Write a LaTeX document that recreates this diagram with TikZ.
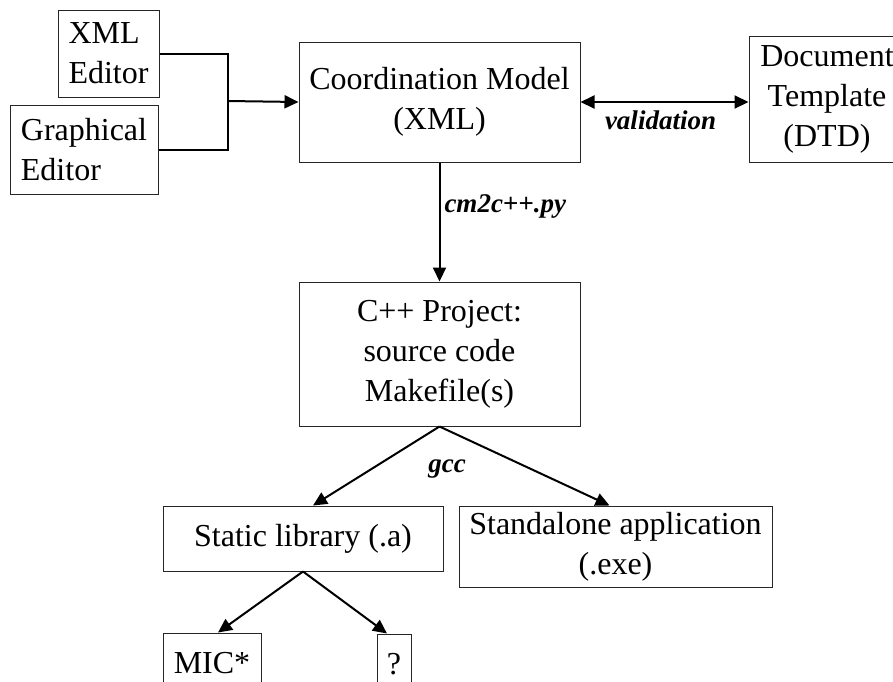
\documentclass[tikz,border=0pt]{standalone}
\usepackage{fontspec}
\setmainfont{Liberation Serif}
\usetikzlibrary{arrows.meta,positioning}

\begin{document}
\begin{tikzpicture}[
    x=0.5pt, y=-0.5pt,
    box/.style={rectangle, draw=black!85, line width=0.5pt, inner sep=1pt, align=center, font=\fontsize{16}{20}\selectfont},
    lbl/.style={font=\fontsize{13.5}{15}\selectfont\bfseries\itshape, inner sep=2pt},
    arr/.style={line width=1pt, -{Triangle[length=7pt,width=6.5pt]}}
]
    \useasboundingbox (0,0) rectangle (893,681);

    \node[box, align=left, minimum width=50.5pt, minimum height=43.5pt] (xmled)  at (108.5,53.5) {XML\\Editor};
    \node[box, align=left, minimum width=74pt,   minimum height=44.5pt] (graphed) at (84,149.5)  {Graphical\\Editor};
    \node[box, minimum width=140.5pt, minimum height=60pt] (coord) at (439.5,102) {Coordination Model\\(XML)};
    \node[box, minimum width=78pt,    minimum height=63pt] (dtd)   at (827,99)    {Document\\Template\\(DTD)};
    \node[box, minimum width=140.5pt, minimum height=72pt] (cpp)   at (439.5,354) {C++ Project:\\ source code\\Makefile(s)};
    \node[box, minimum width=140pt,   minimum height=32.5pt] (static) at (303,538.5) {Static library (.a)};
    \node[box, minimum width=156.5pt, minimum height=40.5pt] (sa)   at (615.5,546.5) {Standalone application\\(.exe)};
    \node[box, minimum width=49pt,    minimum height=30pt] (mic)   at (212,663)   {MIC*};
    \node[box, minimum width=17pt,    minimum height=30pt] (unk)   at (394,664)   {?};

    % editors feed the model
    \coordinate (join) at (228,101);
    \draw[line width=1pt] (xmled.east) -| (join) |- (graphed.east);
    \draw[arr] (join) -- (coord.west);

    \draw[line width=1pt, {Triangle[length=7pt,width=6.5pt]}-{Triangle[length=7pt,width=6.5pt]}] (coord.east) -- (coord.east -| dtd.west)
        node[midway, below=2pt, xshift=-2pt, lbl] {validation};

    \draw[arr] (coord.south) -- (cpp.north) node[pos=0.37, right, lbl] {cm2c++.py};

    \draw[arr] (cpp.south) -- ([xshift=5pt]static.north);
    \draw[arr] (cpp.south) -- ([xshift=-3pt]sa.north);
    \node[lbl] (gcc) at (447,469) {gcc};

    \draw[arr] (static.south) -- ([xshift=3pt]mic.north);
    \draw[arr] (static.south) -- ([xshift=-3.5pt]unk.north);
\end{tikzpicture}
\end{document}
